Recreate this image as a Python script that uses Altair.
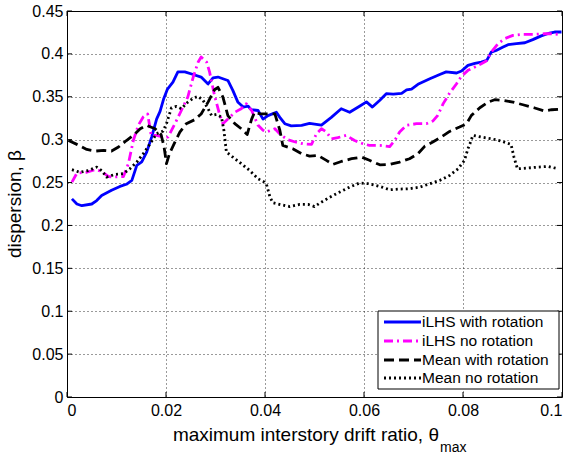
import altair as alt
import pandas as pd

# Dispersion of the fragility estimate vs. maximum interstory drift ratio
ilhs_rot_x = [0.0010, 0.0020, 0.0030, 0.0050, 0.0060, 0.0070, 0.0090, 0.0107, 0.0120, 0.0131,
              0.0141, 0.0151, 0.0161, 0.0171, 0.0181, 0.0188, 0.0195, 0.0203, 0.0214, 0.0224,
              0.0238, 0.0255, 0.0271, 0.0285, 0.0295, 0.0305, 0.0325, 0.0335, 0.0345, 0.0356,
              0.0366, 0.0372, 0.0386, 0.0396, 0.0406, 0.0423, 0.0430, 0.0440, 0.0453, 0.0474,
              0.0490, 0.0514, 0.0534, 0.0554, 0.0571, 0.0591, 0.0605, 0.0617, 0.0632, 0.0645,
              0.0659, 0.0676, 0.0686, 0.0696, 0.0709, 0.0733, 0.0753, 0.0766, 0.0787, 0.0797,
              0.0810, 0.0824, 0.0837, 0.0848, 0.0857, 0.0867, 0.0881, 0.0891, 0.0908, 0.0925,
              0.0941, 0.0958, 0.0975, 0.0985, 0.0999]
ilhs_rot_y = [0.231, 0.225, 0.223, 0.225, 0.229, 0.235, 0.241, 0.2455, 0.248, 0.2525,
              0.270, 0.274, 0.2855, 0.303, 0.324, 0.333, 0.347, 0.359, 0.367, 0.379,
              0.379, 0.376, 0.373, 0.365, 0.372, 0.373, 0.369, 0.3575, 0.344, 0.338,
              0.339, 0.335, 0.334, 0.324, 0.328, 0.332, 0.326, 0.3186, 0.316, 0.3166,
              0.319, 0.317, 0.326, 0.336, 0.332, 0.339, 0.344, 0.338, 0.346, 0.3536,
              0.353, 0.354, 0.358, 0.359, 0.3645, 0.371, 0.376, 0.379, 0.3777, 0.380,
              0.3866, 0.389, 0.3905, 0.3925, 0.402, 0.404, 0.408, 0.4107, 0.412, 0.413,
              0.4166, 0.421, 0.4243, 0.4255, 0.4255]

ilhs_norot_x = [0.0010, 0.0020, 0.0040, 0.0057, 0.0070, 0.0084, 0.0097, 0.0114, 0.0124, 0.0134,
                0.0144, 0.0154, 0.0163, 0.0170, 0.0181, 0.0195, 0.0204, 0.0218, 0.0231, 0.0244,
                0.0255, 0.0265, 0.0271, 0.0282, 0.0288, 0.0298, 0.0308, 0.0315, 0.0325, 0.0339,
                0.0352, 0.0362, 0.0373, 0.0386, 0.0396, 0.0403, 0.0420, 0.0433, 0.0446, 0.0463,
                0.0477, 0.0494, 0.0504, 0.0514, 0.0524, 0.0534, 0.0547, 0.0564, 0.0581, 0.0598,
                0.0611, 0.0632, 0.0652, 0.0662, 0.0672, 0.0686, 0.0706, 0.0726, 0.0739, 0.0749,
                0.0760, 0.0773, 0.0787, 0.0797, 0.0810, 0.0824, 0.0837, 0.0847, 0.0857, 0.0871,
                0.0884, 0.0901, 0.0921, 0.0945, 0.0965, 0.0982, 0.0999]
ilhs_norot_y = [0.2505, 0.261, 0.262, 0.265, 0.263, 0.257, 0.2565, 0.257, 0.272, 0.299,
                0.3167, 0.3264, 0.330, 0.305, 0.305, 0.303, 0.303, 0.3186, 0.334, 0.3497,
                0.373, 0.3905, 0.3963, 0.3905, 0.379, 0.3516, 0.330, 0.3186, 0.324, 0.332,
                0.336, 0.342, 0.334, 0.3167, 0.311, 0.309, 0.3127, 0.305, 0.300, 0.297,
                0.2952, 0.2945, 0.307, 0.3127, 0.309, 0.301, 0.3023, 0.305, 0.299, 0.2952,
                0.2933, 0.2933, 0.292, 0.299, 0.309, 0.3167, 0.3186, 0.3186, 0.3217, 0.3283,
                0.342, 0.3543, 0.3652, 0.374, 0.3808, 0.3847, 0.3886, 0.3917, 0.402, 0.412,
                0.4177, 0.4216, 0.4228, 0.4228, 0.4235, 0.4235, 0.4224]

mean_rot_x = [0.0003, 0.0020, 0.0040, 0.0057, 0.0074, 0.0090, 0.0104, 0.0120, 0.0134, 0.0148,
              0.0161, 0.0178, 0.0190, 0.0196, 0.0201, 0.0207, 0.0218, 0.0228, 0.0241, 0.0258,
              0.0271, 0.0285, 0.0298, 0.0305, 0.0315, 0.0325, 0.0339, 0.0352, 0.0364, 0.0373,
              0.0379, 0.0390, 0.0403, 0.0420, 0.0430, 0.0436, 0.0456, 0.0474, 0.0490, 0.0507,
              0.0524, 0.0537, 0.0554, 0.0575, 0.0595, 0.0611, 0.0632, 0.0652, 0.0672, 0.0692,
              0.0709, 0.0723, 0.0739, 0.0756, 0.0773, 0.0793, 0.0807, 0.0817, 0.0834, 0.0851,
              0.0864, 0.0881, 0.0901, 0.0921, 0.0945, 0.0965, 0.0979, 0.0999]
mean_rot_y = [0.299, 0.2945, 0.2886, 0.2867, 0.2875, 0.2867, 0.2914, 0.299, 0.305, 0.3127,
              0.3167, 0.3127, 0.306, 0.292, 0.272, 0.2836, 0.2972, 0.3089, 0.3186, 0.3233,
              0.330, 0.3438, 0.3582, 0.361, 0.3497, 0.328, 0.3186, 0.3127, 0.306, 0.324,
              0.332, 0.330, 0.330, 0.330, 0.311, 0.2933, 0.2894, 0.2836, 0.2809, 0.2817,
              0.2758, 0.2712, 0.2746, 0.2778, 0.2797, 0.2760, 0.2707, 0.2711, 0.2739, 0.2778,
              0.2836, 0.2925, 0.2972, 0.303, 0.3096, 0.3147, 0.3185, 0.3283, 0.3372, 0.3438,
              0.3466, 0.3458, 0.3438, 0.3407, 0.3369, 0.3334, 0.3349, 0.3357]

mean_norot_x = [0.0010, 0.0026, 0.0043, 0.0060, 0.0070, 0.0080, 0.0097, 0.0114, 0.0127, 0.0141,
                0.0154, 0.0168, 0.0181, 0.0194, 0.0201, 0.0211, 0.0221, 0.0231, 0.0244, 0.0255,
                0.0265, 0.0275, 0.0285, 0.0292, 0.0302, 0.0312, 0.0317, 0.0322, 0.0335, 0.0352,
                0.0369, 0.0386, 0.0399, 0.0404, 0.0410, 0.0416, 0.0433, 0.0450, 0.0470, 0.0487,
                0.0500, 0.0514, 0.0531, 0.0551, 0.0571, 0.0591, 0.0611, 0.0632, 0.0652, 0.0672,
                0.0692, 0.0713, 0.0733, 0.0753, 0.0773, 0.0790, 0.0803, 0.0810, 0.0814, 0.0820,
                0.0837, 0.0857, 0.0877, 0.0897, 0.0903, 0.0910, 0.0928, 0.0951, 0.0972, 0.0992]
mean_norot_y = [0.265, 0.262, 0.264, 0.268, 0.264, 0.2564, 0.2595, 0.2603, 0.266, 0.2739,
                0.2836, 0.2953, 0.307, 0.310, 0.3186, 0.337, 0.3388, 0.336, 0.3438, 0.3485,
                0.3505, 0.3458, 0.336, 0.3283, 0.3294, 0.3264, 0.3108, 0.2855, 0.2797, 0.272,
                0.2641, 0.2544, 0.2505, 0.246, 0.233, 0.2264, 0.224, 0.222, 0.2245, 0.2245,
                0.222, 0.2272, 0.233, 0.2389, 0.2447, 0.2494, 0.2486, 0.2455, 0.2416, 0.2424,
                0.2428, 0.2447, 0.2486, 0.2525, 0.2583, 0.266, 0.2758, 0.2894, 0.2953, 0.305,
                0.303, 0.3011, 0.2984, 0.2945, 0.2797, 0.266, 0.2668, 0.268, 0.2688, 0.266]

series_labels = ["iLHS with rotation", "iLHS no rotation", "Mean with rotation", "Mean no rotation"]
x_ticks = [0, 0.02, 0.04, 0.06, 0.08, 0.1]
y_ticks = [0, 0.05, 0.1, 0.15, 0.2, 0.25, 0.3, 0.35, 0.4, 0.45]

FONT = "Liberation Sans"
W, H = 495, 386

x_enc = alt.X("x:Q", scale=alt.Scale(domain=[0, 0.1], nice=False, zero=False),
              axis=alt.Axis(values=x_ticks, format="~g", grid=True, gridDash=[1, 3],
                            gridColor="#000000", gridWidth=0.8, ticks=False, domain=False,
                            labelFontSize=16, labelFont=FONT, labelColor="#000000",
                            labelPadding=5, title=None))
y_enc = alt.Y("y:Q", scale=alt.Scale(domain=[0, 0.45], nice=False, zero=False),
              axis=alt.Axis(values=y_ticks, format="~g", grid=True, gridDash=[1, 3],
                            gridColor="#000000", gridWidth=0.8, ticks=False, domain=False,
                            labelFontSize=16, labelFont=FONT, labelColor="#000000",
                            labelPadding=4, title=None))

styles = [
    {"color": "#0000ff", "dash": []},
    {"color": "#ff00ff", "dash": [9, 4, 2, 4]},
    {"color": "#000000", "dash": [10, 5]},
    {"color": "#000000", "dash": [2, 3]},
]
series_xy = [(ilhs_rot_x, ilhs_rot_y), (ilhs_norot_x, ilhs_norot_y),
             (mean_rot_x, mean_rot_y), (mean_norot_x, mean_norot_y)]

layers = []

# inward tick marks on all four sides
xt = pd.DataFrame({"x": x_ticks})
yt = pd.DataFrame({"y": y_ticks})
layers.append(alt.Chart(xt).mark_rule(color="black", strokeWidth=1).encode(
    x=x_enc, y=alt.value(H), y2=alt.value(H - 5)))
layers.append(alt.Chart(xt).mark_rule(color="black", strokeWidth=1).encode(
    x=x_enc, y=alt.value(0), y2=alt.value(5)))
layers.append(alt.Chart(yt).mark_rule(color="black", strokeWidth=1).encode(
    y=y_enc, x=alt.value(0), x2=alt.value(5)))
layers.append(alt.Chart(yt).mark_rule(color="black", strokeWidth=1).encode(
    y=y_enc, x=alt.value(W), x2=alt.value(W - 5)))

# the four dispersion curves
for (xs, ys), st in zip(series_xy, styles):
    df = pd.DataFrame({"x": xs, "y": ys})
    kw = dict(color=st["color"], strokeWidth=2.8, strokeJoin="round")
    if st["dash"]:
        kw["strokeDash"] = st["dash"]
    layers.append(alt.Chart(df).mark_line(**kw).encode(x=x_enc, y=y_enc))

# legend box
one = pd.DataFrame({"a": [0]})
LX0, LX1, LY0, LY1 = 311, 492, 300, 378
layers.append(alt.Chart(one).mark_rect(fill="white", stroke="black", strokeWidth=1).encode(
    x=alt.value(LX0), x2=alt.value(LX1), y=alt.value(LY0), y2=alt.value(LY1)))
row_y = [311, 330, 349, 367]
for lab, st, ry in zip(series_labels, styles, row_y):
    kw = dict(color=st["color"], strokeWidth=2.8)
    if st["dash"]:
        kw["strokeDash"] = st["dash"]
    layers.append(alt.Chart(one).mark_rule(**kw).encode(
        x=alt.value(317), x2=alt.value(354), y=alt.value(ry)))
    layers.append(alt.Chart(one).mark_text(
        text=lab, align="left", baseline="middle", font=FONT, fontSize=15.5, color="black").encode(
        x=alt.value(355), y=alt.value(ry)))

# axis titles
layers.append(alt.Chart(one).mark_text(
    text="dispersion, \u03b2", angle=270, align="center", baseline="middle",
    font=FONT, fontSize=19, color="black").encode(x=alt.value(-52), y=alt.value(H / 2)))
layers.append(alt.Chart(one).mark_text(
    text="maximum interstory drift ratio, \u03b8", align="right", baseline="middle",
    font=FONT, fontSize=19, color="black").encode(x=alt.value(372), y=alt.value(424)))
layers.append(alt.Chart(one).mark_text(
    text="max", align="left", baseline="middle",
    font=FONT, fontSize=14, color="black").encode(x=alt.value(373), y=alt.value(437)))

chart = alt.layer(*layers).properties(
    width=W, height=H,
    padding={"left": 67, "top": 11, "right": 9, "bottom": 58},
    autosize="none",
    background="white",
).configure_view(stroke="black", strokeWidth=1)

chart.save("out.html", embed_options={"renderer": "svg", "actions": False})
